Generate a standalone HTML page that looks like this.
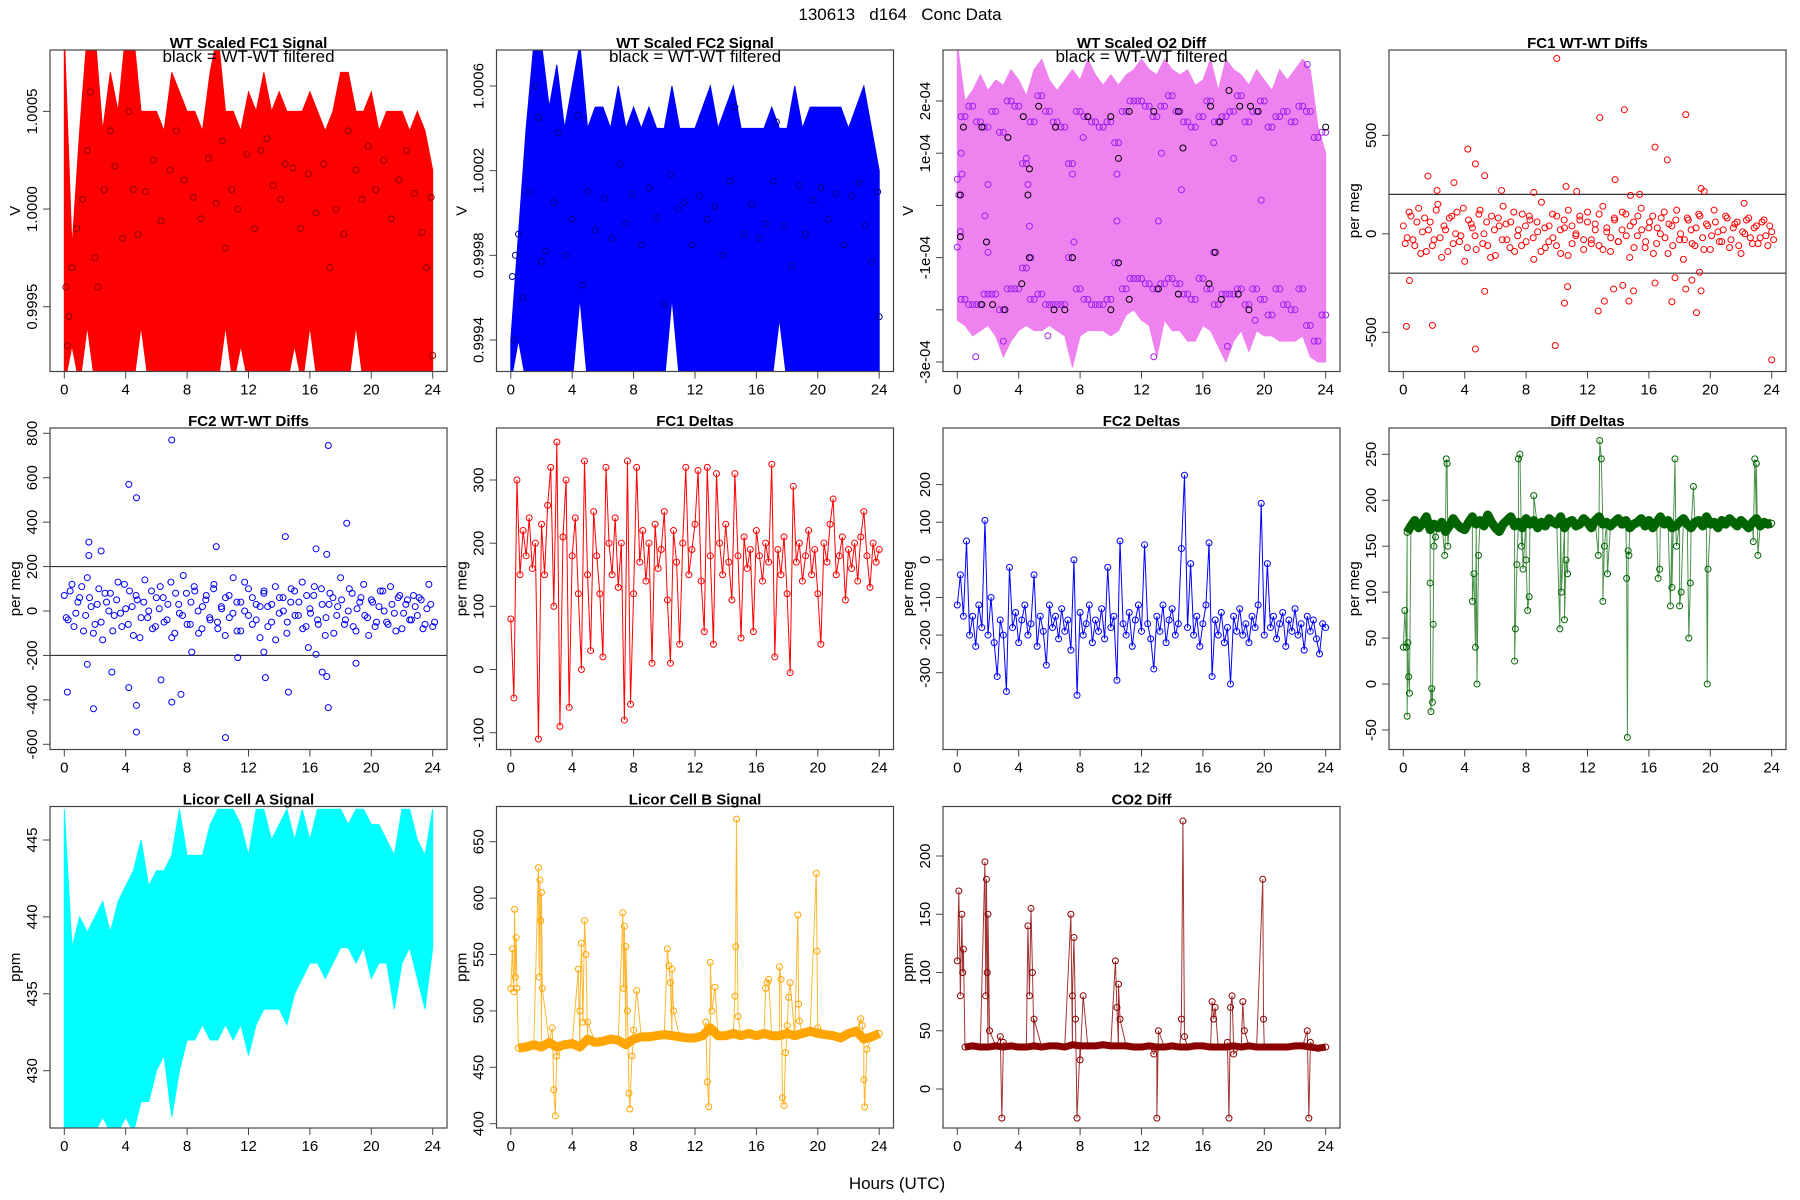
<!DOCTYPE html>
<html><head><meta charset="utf-8"><title>130613 d164 Conc Data</title>
<style>html,body{margin:0;padding:0;background:#fff}svg{display:block}text{font-family:"Liberation Sans",Arial,sans-serif}</style>
</head><body>
<svg id="chart" xmlns="http://www.w3.org/2000/svg" width="1800" height="1200" viewBox="0 0 1800 1200">
<rect x="0" y="0" width="1800" height="1200" fill="#fff"/>
<text x="900" y="20" font-size="17" text-anchor="middle" style="white-space:pre">130613   d164   Conc Data</text>
<text x="897" y="1189" font-size="17" text-anchor="middle">Hours (UTC)</text>
</svg>
<script>
// ---------- data ----------
const xTicks=[0,4,8,12,16,20,24];
// P1 FC1 signal envelopes (offsets 1e-4 from 1, step 0.5h)
const fc1Upper=[9,-2,4,9,9,4,7,5,9,9,5,5,5,4,7,6,5,5,4,7,9,5,5,4,6,5,7,5,6,5,5,5,6,5,4,5,7,7,5,5,6,4,5,5,5,4,5,4,2];
const fc1Lower=[-9,-7,-9,-6,-9,-9,-9,-9,-9,-9,-6,-9,-9,-9,-9,-9,-9,-9,-9,-9,-9,-6,-9,-7,-9,-9,-9,-9,-9,-9,-7,-9,-6,-9,-9,-9,-9,-9,-6,-9,-9,-9,-9,-9,-9,-9,-9,-9,-9];
const fc1CircX=[0.1,0.2,0.3,0.5,0.8,1.2,1.5,1.7,2.0,2.2,2.6,3.0,3.3,3.8,4.2,4.5,4.8,5.3,5.8,6.3,6.9,7.3,7.8,8.4,8.9,9.4,9.9,10.3,10.5,10.9,11.3,11.9,12.4,12.8,13.2,13.6,14.1,14.4,14.9,15.4,15.9,16.4,16.9,17.3,17.7,18.2,18.5,19.0,19.4,19.8,20.3,20.8,21.3,21.8,22.3,22.8,23.3,23.6,23.9,24.0];
const fc1CircY=[-4,-7,-5.5,-3,-1,0.5,3,6,-2.5,-4,1,4,2.2,-1.5,5,1,-1.3,0.9,2.5,-0.6,2,4,1.5,0.6,-0.5,2.6,0.3,3.5,-2,1,0,2.8,-1,3,3.6,1.2,0.5,2.3,2.1,-1,1.8,-0.2,2.3,-3,0,-1.3,4,2,0.5,3.2,1,2.5,-0.5,1.5,3,0.8,-1.2,-3,0.6,-7.5];
// P2 FC2 signal
const fc2Upper=[-6,-1,4,8,8,5,7,4,6,8,4,5,5,4,6,4,5,4,5,4,4,6,4,4,4,5,6,4,5,6,4,4,4,4,5,4,4,6,4,5,5,5,5,5,4,5,6,4,2];
const fc2Lower=[-8,-6,-8,-8,-8,-8,-8,-8,-8,-4,-8,-8,-8,-8,-8,-8,-8,-8,-8,-8,-8,-4,-8,-8,-8,-8,-8,-8,-8,-8,-8,-8,-8,-8,-8,-5,-8,-8,-8,-8,-8,-8,-8,-8,-8,-8,-8,-8,-8];
const fc2CircX=[0.1,0.2,0.3,0.5,0.8,1.2,1.6,1.8,2.0,2.3,2.8,3.1,3.6,4.0,4.4,4.7,5.0,5.5,6.1,6.6,7.1,7.5,7.9,8.5,9.0,9.5,10.0,10.4,10.9,11.3,11.8,12.3,12.8,13.3,13.8,14.3,14.6,15.2,15.7,16.2,16.6,17.1,17.3,17.8,18.3,18.8,19.2,19.7,20.2,20.7,21.2,21.7,22.2,22.7,23.1,23.5,23.9,24.0];
const fc2CircY=[-3,-6,-2,-1,-4,1,6,4.5,-2.3,-1.8,0.5,3.8,-2,-0.3,4.6,-3.4,1,-0.8,0.7,-1.2,2.3,-0.5,0.9,-1.5,1.2,-0.2,-4.3,1.8,0.2,0.5,-1.5,0.8,-0.3,0.3,-2,1.5,5,-1,0.4,-1.2,-0.5,1.5,4.3,-0.6,-2.5,1.3,-1,0.6,1.2,-0.3,0.9,-1.5,0.8,1.4,-0.6,-2.3,1,-4.9];
// P3 O2 diff (1e-4)
const o2Upper=[3.1,2.0,2.2,2.5,2.2,2.4,2.3,2.6,2.4,2.1,2.6,2.8,2.4,2.2,2.4,2.6,2.4,2.8,2.5,2.3,2.5,2.3,2.5,2.6,2.8,2.6,2.5,2.8,2.6,2.5,2.6,2.3,2.4,2.8,2.2,2.8,2.6,2.5,2.3,2.6,2.4,2.2,2.6,2.4,2.6,2.8,2.6,1.5,1.0];
const o2Lower=[-2.2,-2.3,-2.5,-2.4,-2.3,-2.5,-2.9,-2.6,-2.4,-2.3,-2.4,-2.4,-2.3,-2.4,-2.5,-3.1,-2.5,-2.4,-2.4,-2.4,-2.5,-2.4,-2.1,-2.0,-2.2,-2.3,-2.9,-2.2,-2.4,-2.4,-2.6,-2.6,-2.3,-2.4,-2.7,-3.0,-2.6,-2.4,-2.8,-2.4,-2.5,-2.5,-2.6,-2.6,-2.6,-2.5,-2.9,-3.0,-3.0];
const o2TrackHi=[0.5,1.7,1.9,1.6,1.5,1.8,1.4,2.0,1.9,0.8,1.6,2.1,1.8,1.6,1.5,0.8,1.8,1.7,1.6,1.5,1.6,1.2,1.8,2.0,2.0,1.9,1.7,1.9,2.1,1.8,1.6,1.5,1.7,2.0,1.6,1.7,1.8,2.1,1.6,1.8,2.0,1.5,1.7,1.8,1.6,1.9,1.8,1.3,1.4];
const o2TrackLo=[-0.8,-1.8,-1.9,-1.9,-1.7,-1.7,-2.0,-1.6,-1.6,-1.2,-1.8,-1.7,-1.9,-1.9,-1.9,-1.0,-1.6,-1.8,-1.9,-1.9,-1.8,-1.1,-1.6,-1.4,-1.4,-1.5,-1.6,-1.5,-1.4,-1.5,-1.7,-1.8,-1.4,-1.6,-1.9,-1.7,-1.7,-1.6,-1.9,-1.6,-1.8,-2.1,-1.6,-1.9,-2.0,-1.6,-2.3,-2.6,-2.1];
const o2MidX=[0.1,0.2,0.3,1.8,1.9,2.0,4.6,4.7,4.8,7.5,7.6,10.4,10.5,10.4,16.7,16.7,18.0,19.8,13.1,14.6,4.5,2.0,0.25,1.2,3.0,5.9,8.2,12.8,13.3,17.6,19.4,22.8];
const o2MidY=[0.2,-0.5,0.6,-0.2,-0.7,-0.9,0.4,-0.4,-1,0.6,-0.7,-0.3,-1.1,0.6,-0.9,1.2,0.9,0.1,-0.3,0.3,0.9,0.4,1.0,-2.9,-2.6,-2.5,1.3,-2.9,1.0,-2.7,-2.2,2.7];
const o2BlackX=[0.4,1.6,3.3,4.3,5.3,6.4,8.5,10.0,10.5,11.2,12.8,14.4,14.7,16.5,17.1,17.7,18.4,19.1,19.6,24.0,0.2,1.9,4.7,7.5,10.5,16.8,0.2,4.7,4.6,1.6,2.3,3.1,4.2,6.3,7.0,10.0,11.2,13.1,14.4,16.4,17.2,18.3,19.0];
const o2BlackY=[1.5,1.5,1.3,1.7,1.9,1.5,1.7,1.7,0.9,1.8,1.8,1.8,1.1,1.9,1.6,2.2,1.9,1.9,1.8,1.5,-0.6,-0.7,-1.0,-1.0,-1.1,-0.9,0.2,0.7,0.2,-1.9,-1.9,-2.0,-1.5,-2.0,-2.0,-2.0,-1.8,-1.6,-1.7,-1.5,-1.8,-1.7,-2.0];
// P4 FC1 WT-WT diffs
const d1CloudA=[40,-20,90,-60,130,10,-90,60,-30,150,-120,20,80,-50,110,-10,-140,70,30,-80,120,0,-60,90,-110,40,140,-30,60,-90,20,100,-40,70,-130,10,160,-70,40,-20,90,-100,30,120,-50,0,70,-80,110,-30,50,-60,140,10,-90,80,-40,20,100,-120,60,-10,130,-70,30,90,-50,0,110,-100,40,70,-30,-130,80,20,-60,100,-20,50,-80,120,10,-40,90,-70,30,60,-100,0,80,-50,40,-20,70,-60,10];
const d1CloudB=[-50,110,-30,60,-100,80,20,-60,120,-20,40,-90,90,0,-40,130,-70,50,-10,100,-50,60,-120,20,80,-30,50,-70,110,-10,-60,40,90,-20,60,-90,30,-40,100,-60,20,70,-110,40,-10,90,-30,60,-50,20,100,-80,30,-20,70,-40,110,-10,40,-70,90,20,-40,60,-100,30,80,-20,50,-60,120,0,-30,70,-50,30,90,-80,40,-10,60,-40,20,80,-30,50,-60,10,70,-20,30,-50,60,-10,40,-30];
const d1OutX=[10,12.8,14.4,18.4,4.2,16.4,4.7,17.2,5.3,1.6,13.8,3.3,2.2,6.4,10.6,11.3,8.5,14.8,15.4,19.4,19.6,22.2,0.2,0.4,1.9,4.7,5.3,9.9,10.5,10.7,12.7,13.1,13.7,14.3,14.7,15,16.4,17.5,17.7,18.4,18.8,19.1,19.3,19.4,24];
const d1OutY=[890,590,630,605,430,440,355,375,295,293,275,260,220,220,240,215,210,195,200,230,215,155,-470,-237,-465,-585,-292,-567,-352,-268,-392,-342,-280,-262,-342,-290,-250,-345,-223,-280,-235,-400,-195,-290,-640];
// P5 FC2 WT-WT diffs
const d2CloudA=[70,-40,120,-10,60,-90,150,20,-60,100,-130,40,80,-20,130,-70,10,90,-110,50,-30,140,0,-80,60,110,-50,30,-120,80,-10,160,-60,40,90,-100,20,70,-40,120,-80,10,60,-30,150,-90,40,0,100,-60,30,-120,80,20,-50,110,-10,60,-100,40,90,-20,130,-70,10,70,-40,100,-110,30,60,-20,150,-60,0,80,-90,40,120,-30,50,-70,20,90,-50,110,-10,60,-80,30,-40,70,-20,50,-60,120,-70];
const d2CloudB=[-30,90,-70,40,110,-20,60,-100,30,-50,80,0,-90,50,-10,120,-60,20,70,-120,40,-30,90,-70,10,60,-40,130,-100,30,-20,80,-60,110,0,-80,50,-30,100,-50,20,-110,70,-10,40,-90,130,-20,60,-40,20,90,-70,30,-130,60,0,-50,100,-20,40,-80,70,-10,110,-60,30,-30,80,-100,20,50,-40,100,-70,10,60,-20,-110,40,-50,90,0,-60,30,-90,70,-10,50,-40,20,60,-80,10,30,-50];
const d2OutX=[7.0,17.2,4.2,4.7,18.4,1.6,9.9,14.4,2.4,16.4,17.1,1.6,0.2,1.9,4.7,10.5,4.7,7.0,7.6,4.2,6.3,3.1,13.1,14.6,16.8,17.1,17.2,1.5,11.3,19.0,13.0,8.3,15.9,16.4];
const d2OutY=[770,745,570,510,395,310,290,335,270,280,255,250,-365,-440,-545,-570,-425,-410,-375,-345,-310,-275,-300,-365,-275,-295,-435,-240,-210,-235,-185,-185,-165,-195];
// P6 FC1 Deltas (step 0.2h)
const fc1Delta=[80,-45,300,150,220,180,240,160,200,-110,230,150,260,320,100,360,-90,210,300,-60,180,240,120,0,330,150,30,250,180,120,20,320,200,150,240,130,200,-80,330,-55,120,320,170,220,140,200,10,230,160,190,250,110,10,220,170,40,200,320,150,190,230,315,140,60,320,180,40,310,200,150,230,170,110,310,180,50,210,160,190,60,220,180,140,200,170,325,20,190,150,210,120,-5,290,170,200,140,180,220,150,190,120,40,200,170,230,270,150,180,210,110,190,160,200,140,210,250,180,130,200,170,190];
// P7 FC2 Deltas (step 0.2h)
const fc2Delta=[-120,-40,-150,50,-200,-150,-230,-120,-180,105,-200,-100,-220,-310,-160,-200,-350,-20,-180,-140,-220,-160,-120,-200,-170,-40,-230,-150,-190,-280,-120,-180,-150,-210,-130,-190,-160,-240,0,-360,-140,-200,-170,-120,-220,-160,-190,-130,-210,-20,-180,-150,-320,50,-170,-200,-140,-230,-160,-120,-190,40,-170,-210,-290,-150,-190,-120,-220,-160,-130,-200,-170,30,225,-180,-10,-200,-150,-230,-170,-120,45,-310,-160,-200,-140,-220,-180,-330,-150,-190,-130,-200,-170,-220,-150,-180,-120,150,-200,-10,-180,-150,-210,-170,-140,-230,-160,-190,-130,-200,-170,-240,-150,-190,-160,-210,-250,-170,-180];
// P8 Diff Deltas: baseline (step 0.25h) + events
const ddBase=[40,165,172,178,170,175,182,168,174,170,176,166,172,180,174,170,168,176,182,174,178,172,184,176,170,166,174,178,182,172,176,170,180,174,178,170,176,172,180,176,174,182,170,176,178,172,174,180,176,170,178,182,174,176,172,176,180,174,178,170,174,176,180,172,178,170,176,182,174,178,170,172,176,180,174,170,176,178,172,182,174,176,170,178,174,180,176,172,178,174,170,176,180,172,176,174,175];
const ddEvX=[0.1,0.2,0.25,0.3,0.35,0.4,1.75,1.8,1.85,1.9,1.95,2.0,2.1,2.7,2.8,2.85,2.9,4.5,4.6,4.7,4.8,4.9,7.25,7.3,7.4,7.5,7.6,7.7,7.8,8.0,8.1,8.2,8.5,10.2,10.3,10.5,10.6,10.7,12.7,12.8,12.9,13.0,13.1,13.3,14.55,14.6,14.65,14.7,16.6,16.7,17.4,17.5,17.7,17.8,18.0,18.1,18.6,18.7,18.9,19.8,19.85,22.8,22.9,23.0,23.1];
const ddEvY=[80,40,-35,45,8,-10,110,-30,-5,-20,65,150,160,140,245,240,150,90,120,40,0,140,25,60,130,245,250,150,125,135,80,95,205,60,100,70,135,120,140,265,245,90,150,120,115,-58,145,140,115,125,85,105,245,150,85,100,50,110,215,0,125,155,245,240,140];
// P9 Licor A (step 0.5h)
const licAUpper=[447,438,440,439,440,441,439,441,442,443,445,442,443,443,444,447,444,444,444,446,447,447,447,446,444,447,447,445,446,447,445,447,445,447,447,447,447,446,447,447,446,446,445,444,447,447,445,444,447];
const licALower=[426,426,426,426,426,427,426,426,427,426,428,428,430,431,427,430,432,432,433,432,432,433,432,433,431,433,434,434,434,433,435,436,437,437,436,437,438,438,437,438,436,437,437,434,437,438,436,434,438];
// P10 Licor B
const licBBase=[520,467,468,470,468,472,468,470,471,468,475,472,473,475,474,470,475,477,477,478,479,478,477,476,476,478,485,478,478,480,478,480,478,480,478,478,480,478,480,482,480,479,478,476,480,482,475,477,480];
const licBEvX=[0.1,0.2,0.25,0.3,0.35,0.4,1.8,1.85,1.9,1.95,2.0,2.05,2.7,2.8,2.9,3.0,4.4,4.5,4.6,4.7,4.8,4.9,5.0,7.3,7.35,7.4,7.5,7.6,7.7,7.75,7.9,8.0,8.2,10.2,10.3,10.4,10.5,10.6,12.7,12.8,12.9,13.0,13.1,13.3,14.6,14.65,14.7,14.8,16.6,16.7,16.8,17.5,17.6,17.7,17.8,17.9,18.0,18.1,18.2,18.7,18.75,18.8,19.9,19.95,20.0,22.8,22.9,23.0,23.05,23.2];
const licBEvY=[555,517,590,530,565,520,627,530,616,580,605,520,485,430,407,460,537,500,560,490,580,550,490,587,520,575,557,500,427,413,460,483,518,555,540,525,537,500,490,437,415,543,500,521,513,557,670,495,520,525,528,539,528,423,416,463,487,512,525,585,506,491,622,553,485,493,487,439,415,466];
// P11 CO2 diff
const co2Base=[110,36,37,36,36,37,36,37,36,36,37,36,37,37,36,38,37,37,37,38,37,37,37,36,36,37,36,36,37,36,36,37,37,36,36,36,37,36,37,36,36,36,36,36,37,37,36,35,36];
const co2EvX=[0.1,0.2,0.3,0.35,0.4,1.8,1.85,1.9,1.95,2.0,2.1,2.8,2.9,3.0,4.6,4.7,4.8,4.9,5.0,7.4,7.5,7.6,7.7,7.8,8.0,8.2,10.3,10.4,10.5,10.6,12.8,13.0,13.1,14.6,14.7,14.8,16.6,16.7,16.8,17.6,17.7,17.8,17.9,18.0,18.6,18.7,19.9,19.95,22.8,22.9,23.0];
const co2EvY=[170,80,150,100,120,195,80,180,100,150,50,45,-25,40,140,80,155,100,60,150,80,130,60,-25,25,80,110,70,90,60,30,-25,50,60,230,45,75,60,70,40,-25,70,80,30,75,50,180,60,50,-25,40];

// ---------- drawing ----------
const NS='http://www.w3.org/2000/svg';
const svg=document.getElementById('chart');
function mk(tag,attrs,parent){const e=document.createElementNS(NS,tag);for(const k in attrs)e.setAttribute(k,attrs[k]);(parent||svg).appendChild(e);return e;}
const COLX=[50,496.5,943,1389], ROWY=[50,428,806.5], PW=397, PH=321.5;

function panel(id,col,row,v1,p1,v2,p2,yt,ylabs,ylab,title,sub){
  const L=COLX[col],T=ROWY[row];
  const g=mk('g',{});
  
  
  const sx=x=>L+14.3+x*15.35;
  const sy=v=>p1+(v-v1)*(p2-p1)/(v2-v1);
  const cp=mk('clipPath',{id:'clip-'+id},g);
  mk('rect',{x:L,y:T,width:PW,height:PH},cp);
  const marks=mk('g',{'clip-path':'url(#clip-'+id+')'},g);
  
  
  const box=mk('rect',{x:L,y:T,width:PW,height:PH,fill:'none',stroke:'#444','stroke-width':1.2},g);
  
  
  xTicks.forEach(t=>{
    const tk=mk('line',{x1:sx(t),x2:sx(t),y1:T+PH,y2:T+PH+7,stroke:'#444'},g);
    
    
    const tl=mk('text',{x:sx(t),y:T+PH+23,'font-size':15,'text-anchor':'middle'},g);
    
    
    tl.textContent=t;
  });
  mk('line',{x1:sx(0),x2:sx(24),y1:T+PH,y2:T+PH,stroke:'#444'},g);
  yt.forEach((v,i)=>{
    const y=sy(v);
    const tk=mk('line',{x1:L-7,x2:L,y1:y,y2:y,stroke:'#444'},g);
    
    
    if(ylabs[i]){
      const tl=mk('text',{x:L-13,y:y,'font-size':15,'text-anchor':'middle',transform:'rotate(-90 '+(L-13)+' '+y+')'},g);
      
      
      tl.textContent=ylabs[i];
    }
  });
  mk('line',{x1:L,x2:L,y1:sy(yt[0]),y2:sy(yt[yt.length-1]),stroke:'#444'},g);
  const cy=T+PH/2;
  const yl=mk('text',{x:L-30,y:cy,'font-size':15,'text-anchor':'middle',transform:'rotate(-90 '+(L-30)+' '+cy+')'},g);
  
  
  yl.textContent=ylab;
  const tt=mk('text',{x:L+PW/2,y:T-2,'font-size':15,'font-weight':'bold','text-anchor':'middle'},g);
  
  
  tt.textContent=title;
  if(sub){
    const st=mk('text',{x:L+PW/2,y:T+12,'font-size':17,'text-anchor':'middle'},g);
    
    
    st.textContent=sub;
  }
  return {marks,sx,sy,L,T};
}
function band(P,up,lo,fill,conv,name){
  const st=24/(up.length-1);
  let pts=up.map((v,i)=>P.sx(i*st)+','+P.sy(conv(v)));
  for(let i=lo.length-1;i>=0;i--)pts.push(P.sx(i*st)+','+P.sy(conv(lo[i])));
  const pg=mk('polygon',{points:pts.join(' '),fill:fill,stroke:fill,'stroke-width':1},P.marks);
  
  
}
function circles(P,xs,ys,color,conv,name,r){
  xs.forEach((x,i)=>{
    const c=mk('circle',{cx:P.sx(x),cy:P.sy(conv(ys[i])),r:r||3,fill:'none',stroke:color,'stroke-width':1},P.marks);
    
    
  });
}
function stepX(arr,off){const st=24/(arr.length-1);return arr.map((v,i)=>i*st+(off||0));}
function underlay(P,xs,ys,color,w,name){
  const pl=mk('polyline',{points:xs.map((x,i)=>P.sx(x)+','+P.sy(ys[i])).join(' '),fill:'none',stroke:color,'stroke-width':w,'stroke-linejoin':'round'},P.marks);
  
  
}
function lineSeries(P,xs,ys,color,name,r,lineOpacity){
  const pl=mk('polyline',{points:xs.map((x,i)=>P.sx(x)+','+P.sy(ys[i])).join(' '),fill:'none',stroke:color,'stroke-width':1,'stroke-opacity':lineOpacity||1},P.marks);
  
  
  circles(P,xs,ys,color,v=>v,name+'-point',r);
}
function merge(bx,by,ex,ey){const a=bx.map((x,i)=>[x,by[i]]).concat(ex.map((x,i)=>[x,ey[i]]));a.sort((p,q)=>p[0]-q[0]);return [a.map(p=>p[0]),a.map(p=>p[1])];}
function hline(P,v,name){const l=mk('line',{x1:P.L,x2:P.L+PW,y1:P.sy(v),y2:P.sy(v),stroke:'#333','stroke-width':1.2},P.marks);}
const off1=v=>1+v*1e-4, e4=v=>v*1e-4, id=v=>v;

// P1
const P1=panel('fc1-signal',0,0,1.0005,111.4,0.9995,306.7,[0.9995,1.0,1.0005],['0.9995','1.0000','1.0005'],'V','WT Scaled FC1 Signal','black = WT-WT filtered');
band(P1,fc1Upper,fc1Lower,'#ff0000',off1,'fc1-signal-band');
circles(P1,fc1CircX,fc1CircY,'#8b0000',off1,'fc1-filtered-point');
// P2
const P2=panel('fc2-signal',1,0,1.0006,86,0.9994,340,[0.9994,0.9998,1.0002,1.0006],['0.9994','0.9998','1.0002','1.0006'],'V','WT Scaled FC2 Signal','black = WT-WT filtered');
band(P2,fc2Upper,fc2Lower,'#0000ff',off1,'fc2-signal-band');
circles(P2,fc2CircX,fc2CircY,'#00008b',off1,'fc2-filtered-point');
// P3
const P3=panel('o2-diff',2,0,2e-4,101,-3e-4,362,[-3e-4,-2e-4,-1e-4,0,1e-4,2e-4],['-3e-04','','-1e-04','','1e-04','2e-04'],'V','WT Scaled O2 Diff','black = WT-WT filtered');
band(P3,o2Upper,o2Lower,'#ee82ee',e4,'o2-diff-band');
circles(P3,stepX(o2TrackHi),o2TrackHi,'#a020f0',e4,'o2-upper-point');
circles(P3,stepX(o2TrackHi,0.25).slice(0,48),o2TrackHi.slice(1),'#a020f0',e4,'o2-upper-point');
circles(P3,stepX(o2TrackLo),o2TrackLo,'#a020f0',e4,'o2-lower-point');
circles(P3,stepX(o2TrackLo,0.25).slice(0,48),o2TrackLo.slice(1),'#a020f0',e4,'o2-lower-point');
circles(P3,o2MidX,o2MidY,'#a020f0',e4,'o2-mid-point');
circles(P3,o2BlackX,o2BlackY,'#000',e4,'o2-filtered-point');
// P4
const P4=panel('fc1-wtwt',3,0,500,135.3,-500,332.3,[-500,0,500],['-500','0','500'],'per meg','FC1 WT-WT Diffs');
hline(P4,200,'fc1-wtwt-upper-limit');hline(P4,-200,'fc1-wtwt-lower-limit');
circles(P4,stepX(d1CloudA),d1CloudA,'#ff0000',id,'fc1-wtwt-point');
circles(P4,stepX(d1CloudB,0.125),d1CloudB,'#ff0000',id,'fc1-wtwt-point');
circles(P4,d1OutX,d1OutY,'#ff0000',id,'fc1-wtwt-outlier');
// P5
const P5=panel('fc2-wtwt',0,1,800,433.3,-600,744.3,[-600,-400,-200,0,200,400,600,800],['-600','-400','-200','0','200','400','600','800'],'per meg','FC2 WT-WT Diffs');
hline(P5,200,'fc2-wtwt-upper-limit');hline(P5,-200,'fc2-wtwt-lower-limit');
circles(P5,stepX(d2CloudA),d2CloudA,'#0000ff',id,'fc2-wtwt-point');
circles(P5,stepX(d2CloudB,0.125),d2CloudB,'#0000ff',id,'fc2-wtwt-point');
circles(P5,d2OutX,d2OutY,'#0000ff',id,'fc2-wtwt-outlier');
// P6
const P6=panel('fc1-deltas',1,1,300,480,-100,732.7,[-100,0,100,200,300],['-100','0','100','200','300'],'per meg','FC1 Deltas');
lineSeries(P6,stepX(fc1Delta),fc1Delta,'#ff0000','fc1-delta',3);
// P7
const P7=panel('fc2-deltas',2,1,200,484.6,-300,672.7,[-300,-200,-100,0,100,200],['-300','-200','-100','0','100','200'],'per meg','FC2 Deltas');
lineSeries(P7,stepX(fc2Delta),fc2Delta,'#0000ff','fc2-delta',3);
// P8
const P8=panel('diff-deltas',3,1,250,454.3,-50,730,[-50,0,50,100,150,200,250],['-50','0','50','100','150','200','250'],'per meg','Diff Deltas');
underlay(P8,stepX(ddBase).slice(1),ddBase.slice(1),'#006400',9,'diff-delta-baseline-band');
const dd=merge(stepX(ddBase),ddBase,ddEvX,ddEvY);
lineSeries(P8,dd[0],dd[1],'#006400','diff-delta',3,0.7);
// P9
const P9=panel('licor-a',0,2,445,840,430,1070.7,[430,435,440,445],['430','435','440','445'],'ppm','Licor Cell A Signal');
band(P9,licAUpper,licALower,'#00ffff',id,'licor-a-band');
// P10
const P10=panel('licor-b',1,2,650,841.7,400,1123.7,[400,450,500,550,600,650],['400','450','500','550','600','650'],'ppm','Licor Cell B Signal');
underlay(P10,stepX(licBBase).slice(1),licBBase.slice(1),'#ffa500',9,'licor-b-baseline-band');
const lb=merge(stepX(licBBase),licBBase,licBEvX,licBEvY);
lineSeries(P10,lb[0],lb[1],'#ffa500','licor-b',3,0.8);
// P11
const P11=panel('co2-diff',2,2,200,856,0,1089,[0,50,100,150,200],['0','50','100','150','200'],'ppm','CO2 Diff');
underlay(P11,stepX(co2Base).slice(1),co2Base.slice(1),'#8b0000',7,'co2-diff-baseline-band');
const cb=merge(stepX(co2Base),co2Base,co2EvX,co2EvY);
lineSeries(P11,cb[0],cb[1],'#8b0000','co2-diff',3,0.8);
</script>
</body></html>
